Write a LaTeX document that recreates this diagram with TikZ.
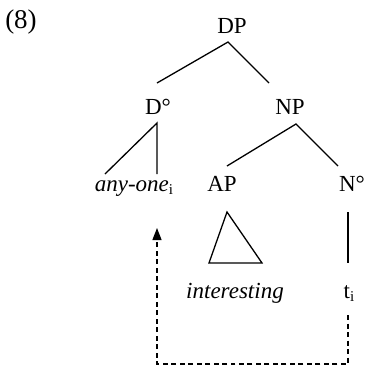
\documentclass[tikz,border=0pt]{standalone}
\usepackage{fontspec}
\setmainfont{Liberation Serif}
\usetikzlibrary{arrows.meta}
\newcommand{\subi}{\raisebox{-0.35ex}{\fontsize{15}{15}\selectfont i}}
\begin{document}
\begin{tikzpicture}[x=1pt,y=-1pt,
  lbl/.style={anchor=base,inner sep=0pt,font=\fontsize{23}{27}\selectfont},
  branch/.style={line width=1.3pt},
  mv/.style={line width=1.3pt,dash pattern=on 5pt off 3.5pt}]
\useasboundingbox (0,0) rectangle (367,368);
\node[lbl,font=\fontsize{27}{30}\selectfont] (ex) at (21,28) {(8)};
\node[lbl] (DP) at (232,33) {DP};
\node[lbl] (D) at (158,114) {D°};
\node[lbl] (NP) at (290,114) {NP};
\node[lbl] (any) at (134,191) {\textit{any-one}\subi};
\node[lbl] (AP) at (222,191) {AP};
\node[lbl] (N) at (352,191) {N°};
\node[lbl] (int) at (235,298) {\textit{interesting}};
\node[lbl] (t) at (349,298) {t\subi};
% branch end points
\coordinate (DPb) at (228,42);
\coordinate (Dt) at (157,83);
\coordinate (NPt) at (269,83);
\coordinate (Db) at (157,123);
\coordinate (anyL) at (105,174);
\coordinate (anyR) at (157,174);
\coordinate (NPb) at (296,124);
\coordinate (APt) at (227,166);
\coordinate (Nt) at (338,166);
\coordinate (APb) at (227,212);
\coordinate (triL) at (209,263);
\coordinate (triR) at (262,263);
\coordinate (Nb) at (348,212);
\coordinate (tt) at (348,263);
\coordinate (tb) at (348,315);
\coordinate (arrR) at (348,364);
\coordinate (arrL) at (157,364);
\coordinate (arrT) at (157,228);
\draw[branch] (Dt) -- (DPb) -- (NPt);
\draw[branch] (anyL) -- (Db) -- (anyR);
\draw[branch] (APt) -- (NPb) -- (Nt);
\draw[branch,line join=miter] (APb) -- (triL) -- (triR) -- cycle;
\draw[branch] (Nb) -- (tt);
\draw[mv,-{Triangle[length=12pt,width=9pt]}] (tb) -- (arrR) -- (arrL) -- (arrT);
\end{tikzpicture}
\end{document}
